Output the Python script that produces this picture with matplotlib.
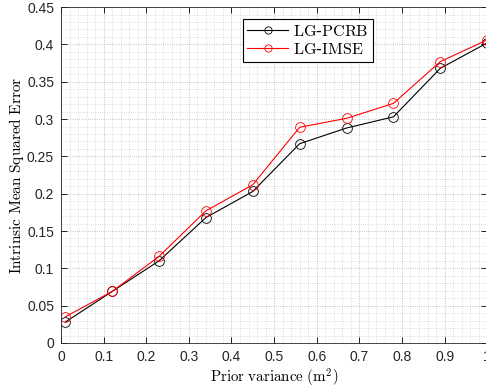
import matplotlib
matplotlib.use('Agg')
import matplotlib.pyplot as plt
from matplotlib.ticker import MultipleLocator

# data
prior_var = [0.01, 0.12, 0.23, 0.34, 0.45, 0.56, 0.67, 0.78, 0.89, 1.0]
lg_pcrb = [0.028, 0.069, 0.110, 0.168, 0.203, 0.267, 0.288, 0.303, 0.368, 0.402]
lg_imse = [0.035, 0.069, 0.116, 0.177, 0.212, 0.289, 0.301, 0.321, 0.377, 0.406]

plt.rcParams['mathtext.fontset'] = 'cm'

fig = plt.figure(figsize=(4.86, 3.87), dpi=100)
ax = fig.add_axes([0.1255, 0.1137, 0.877, 0.868])

ax.plot(prior_var, lg_pcrb, color='black', lw=0.8, marker='o', ms=7,
        mfc='none', mew=0.6, label=r'$\mathrm{LG}$-$\mathrm{PCRB}$')
ax.plot(prior_var, lg_imse, color='red', lw=0.8, marker='o', ms=7,
        mfc='none', mew=0.6, label=r'$\mathrm{LG}$-$\mathrm{IMSE}$')

ax.set_xlim(0, 1)
ax.set_ylim(0, 0.45)
ax.xaxis.set_minor_locator(MultipleLocator(0.02))
ax.yaxis.set_minor_locator(MultipleLocator(0.01))
ax.set_xticks([0, 0.1, 0.2, 0.3, 0.4, 0.5, 0.6, 0.7, 0.8, 0.9, 1.0])
ax.set_xticklabels(['0', '0.1', '0.2', '0.3', '0.4', '0.5', '0.6', '0.7', '0.8', '0.9', '1'])
ax.set_yticks([0, 0.05, 0.1, 0.15, 0.2, 0.25, 0.3, 0.35, 0.4, 0.45])
ax.set_yticklabels(['0', '0.05', '0.1', '0.15', '0.2', '0.25', '0.3', '0.35', '0.4', '0.45'])

ax.grid(True, which='major', ls=':', color='#b0b0b0', lw=0.6)
ax.grid(True, which='minor', ls=':', color='#c8c8c8', lw=0.5)
ax.tick_params(which='major', direction='in', top=True, right=True, length=4,
               width=0.6, labelsize=10, labelcolor='#262626', pad=5)
ax.tick_params(which='minor', length=0)
for lab in ax.get_xticklabels() + ax.get_yticklabels():
    lab.set_fontfamily('Liberation Sans')
for s in ax.spines.values():
    s.set_linewidth(0.6)
    s.set_color('#262626')

ax.set_xlabel(r'$\mathrm{Prior\ variance\ (m^2)}$', fontsize=10.8, labelpad=2)
ax.set_ylabel(r'$\mathrm{Intrinsic\ Mean\ Squared\ Error}$', fontsize=11, labelpad=1)

leg = ax.legend(loc='upper left', bbox_to_anchor=(0.426, 0.965), fontsize=11.6,
                fancybox=False, framealpha=1, edgecolor='black',
                handlelength=2.5, borderpad=0.3, labelspacing=0.2,
                handletextpad=0.3, borderaxespad=0, markerscale=0.75)
leg.get_frame().set_linewidth(0.8)

plt.savefig('out.png', dpi=100)
